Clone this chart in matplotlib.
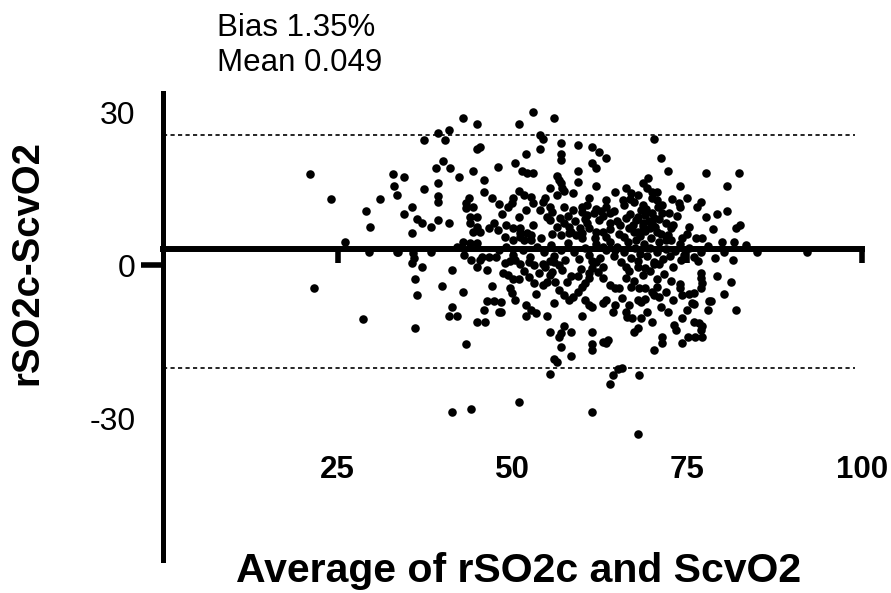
import matplotlib
matplotlib.use("Agg")
import matplotlib.pyplot as plt

plt.rcParams['font.family'] = ['Liberation Sans', 'DejaVu Sans']
plt.rcParams['axes.unicode_minus'] = False

# (average, difference) pairs, grouped by region
left_pts = [
    (21.0, 17.8), (24.0, 13.0), (26.0, 4.5), (21.6, -4.4), (29.0, 10.6), (29.6, 7.5), (31.0, 13.0),
    (29.4, 2.5), (32.9, 17.8), (33.0, 15.5), (33.4, 13.7), (33.4, 2.5), (28.6, -10.6), (34.4, 17.2),
    (35.6, 11.4), (34.4, 10.0), (36.4, 9.0), (37.0, 8.2), (38.4, 7.5), (35.6, 6.3), (33.6, 2.5),
    (35.7, 2.4), (38.4, 2.5), (35.6, 0.4), (35.9, 1.4), (37.0, -0.4), (36.0, -2.7), (36.4, -5.9),
    (36.0, -12.4), (37.4, 14.9), (37.4, 24.5), (39.4, 25.9), (40.4, 24.5), (40.9, 26.5), (42.9, 28.8),
    (44.9, 27.6), (40.0, 20.4), (39.0, 19.0), (41.0, 19.0), (39.4, 16.1), (42.4, 17.3), (39.4, 13.5),
    (39.4, 12.4), (39.4, 8.8), (40.9, 8.2),
]

mid_upper = [
    (45.3, 23.1), (44.9, 22.7), (44.4, 18.4), (47.9, 19.2), (45.9, 16.7), (45.9, 14.3), (47.0, 13.1),
    (43.7, 13.1), (43.4, 12.2), (43.4, 11.2), (44.4, 11.4), (43.9, 9.4), (44.9, 9.4), (43.9, 8.2),
    (44.9, 7.5), (45.3, 6.5), (44.3, 6.5), (46.7, 7.3), (47.4, 8.2), (47.9, 6.9), (42.9, 4.5),
    (43.9, 4.3), (44.9, 4.3), (52.9, 30.0), (50.9, 27.6), (55.9, 28.8), (53.9, 25.5), (54.3, 24.7),
    (53.9, 22.7), (56.9, 23.9), (56.9, 21.8), (56.9, 20.6), (59.4, 23.5), (61.4, 23.1), (62.3, 22.2),
    (63.4, 21.0), (61.4, 20.0), (62.0, 19.0), (51.9, 21.8), (50.4, 20.0), (51.4, 18.4), (52.0, 18.0),
    (52.9, 18.0), (59.4, 18.4), (56.3, 17.5), (56.6, 16.7), (57.0, 16.1), (57.1, 15.1), (59.4, 16.3),
    (55.4, 15.1), (62.0, 15.5), (57.4, 14.5), (58.6, 14.1), (50.9, 14.5), (51.7, 13.7), (52.7, 13.3),
    (52.9, 12.2), (54.6, 13.1), (54.3, 12.4), (56.3, 13.7), (50.0, 13.1), (49.9, 12.2), (49.3, 11.4),
    (60.9, 13.1), (60.6, 11.8), (59.9, 11.4), (60.0, 10.4), (60.7, 9.8), (51.9, 10.8), (53.9, 10.8),
    (55.3, 11.4), (55.7, 10.4), (57.4, 11.4), (58.6, 10.8), (63.4, 12.7), (63.4, 11.4), (63.9, 10.2),
    (50.9, 9.4), (54.9, 9.4), (55.3, 8.8), (49.1, 7.8), (50.0, 7.3), (51.0, 7.3), (51.1, 6.3),
    (52.9, 7.8), (56.4, 7.5), (57.4, 8.2), (58.1, 7.5), (58.4, 6.5), (60.7, 8.2), (61.0, 7.3),
    (62.4, 8.8), (63.9, 8.2), (62.0, 6.5), (62.9, 6.5), (63.4, 5.5), (52.1, 6.3), (52.7, 5.9),
    (60.0, 6.3), (48.9, 5.5), (50.0, 4.9), (51.0, 5.5), (51.7, 4.9), (52.7, 4.9), (54.1, 5.3),
    (55.7, 6.1), (57.0, 5.9), (58.1, 6.3), (59.1, 5.9), (60.0, 5.3), (48.5, 10.0), (48.0, 12.0),
    (56.8, 9.2), (57.9, 9.6), (59.0, 8.6), (59.6, 7.3), (60.3, 9.0), (61.6, 10.2), (62.6, 10.6),
    (61.8, 5.3),
]

right_upper = [
    (70.3, 24.7), (71.3, 21.0), (72.3, 18.4), (77.7, 18.0), (82.4, 18.0), (73.9, 15.5), (74.9, 13.1),
    (80.7, 15.5), (77.0, 12.4), (76.4, 11.4), (77.7, 9.4), (79.3, 10.0), (80.7, 10.6), (75.3, 7.5),
    (78.7, 7.1), (74.3, 5.3), (74.9, 6.1), (76.3, 5.3), (77.1, 5.3), (82.0, 7.3), (82.6, 7.9),
    (79.9, 4.5), (81.7, 4.5), (83.4, 3.9), (66.3, 15.1), (67.0, 14.1), (69.3, 15.1), (70.0, 14.3),
    (70.7, 14.3), (69.9, 13.1), (65.9, 11.8), (67.4, 12.4), (68.6, 11.8), (68.4, 10.8), (68.9, 9.8),
    (70.0, 10.2), (70.3, 9.2), (71.4, 11.8), (71.4, 10.2), (66.3, 9.2), (67.7, 8.8), (68.6, 8.2),
    (65.4, 7.8), (66.6, 7.3), (67.4, 6.5), (68.0, 6.5), (68.6, 7.6), (69.6, 7.3), (70.0, 8.2),
    (70.6, 6.5), (72.6, 7.3), (72.3, 5.9), (71.9, 4.9), (72.7, 4.9), (64.5, 10.6), (65.0, 8.6),
    (65.3, 6.1), (66.0, 5.5), (66.8, 10.0), (67.3, 7.8), (67.6, 4.9), (68.0, 9.4), (68.3, 5.7),
    (68.9, 6.7), (69.1, 11.0), (69.5, 8.6), (69.8, 5.3), (70.4, 7.4), (70.8, 11.4), (71.0, 9.0),
    (71.2, 6.1), (71.9, 8.2), (72.4, 10.2), (73.0, 7.8), (73.5, 9.6), (74.0, 11.4), (63.0, 9.6),
    (62.0, 11.0), (64.0, 7.1), (65.8, 12.7), (66.8, 12.9), (68.0, 13.7), (64.6, 14.3), (72.8, 12.9),
    (73.8, 12.2), (70.6, 12.7), (68.6, 16.1), (69.4, 17.1),
]

bias_band = [
    (45.3, 1.0), (46.7, 1.6), (45.7, 1.6), (47.7, 1.6), (44.9, -0.4), (42.0, 3.5), (43.0, 2.0),
    (44.0, 1.0), (48.0, 2.9), (49.0, 3.5), (50.0, 2.0), (51.5, 2.9), (52.5, 1.6), (53.5, 3.5),
    (54.5, 2.5), (55.5, 3.9), (56.0, 1.8), (57.0, 3.0), (57.5, 1.0), (58.0, 4.3), (58.8, 2.5),
    (59.5, 1.2), (60.3, 3.3), (61.0, 2.0), (62.0, 4.1), (62.5, 1.4), (63.3, 2.9), (64.0, 4.5),
    (64.5, 1.8), (65.0, 3.5), (65.5, 0.6), (66.0, 2.5), (66.5, 4.5), (67.0, 1.4), (67.5, 3.3),
    (68.0, 0.8), (68.3, 2.2), (68.8, 4.1), (69.3, 1.8), (69.7, 3.3), (70.2, 0.6), (70.6, 2.5),
    (71.0, 4.5), (71.5, 1.2), (72.0, 3.1), (72.5, 1.8), (73.3, 2.7), (74.0, 4.1), (74.5, 2.0),
    (75.3, 3.3), (76.0, 1.6), (77.0, 2.5), (78.0, 3.7), (79.0, 1.4), (81.5, 1.0), (80.3, 2.5),
    (85.0, 2.5), (92.1, 2.5), (64.6, 2.9), (63.0, 3.5), (48.9, 0.4), (49.6, 0.8), (50.3, 1.0),
    (51.0, 0.2), (52.3, 0.6), (53.0, 0.0), (55.3, 0.8), (55.9, 0.6), (56.6, 0.0), (54.3, 0.2),
    (54.6, -0.4), (61.4, 0.8), (62.0, 0.6), (66.3, -0.4), (67.9, -0.4), (69.0, -0.6), (70.3, 0.2),
    (70.9, 0.2), (73.0, -0.4), (74.1, 1.0), (76.6, 0.8),
]

mid_lower = [
    (46.4, -1.0), (47.0, -4.1), (46.3, -7.1), (47.4, -7.1), (45.9, -8.8), (44.9, -11.2), (46.0, -11.2),
    (48.1, -9.2), (43.4, -15.5), (41.4, -1.0), (39.9, -4.1), (42.9, -5.3), (41.4, -8.2), (40.9, -10.0),
    (42.0, -10.0), (41.4, -28.8), (44.0, -28.2), (50.9, -26.9), (61.4, -28.8), (55.4, -21.4),
    (63.9, -23.3), (64.3, -21.6), (65.1, -20.4), (55.9, -18.4), (56.3, -19.0), (58.4, -17.8),
    (56.9, -16.1), (61.4, -16.7), (61.4, -15.5), (62.9, -15.1), (63.4, -15.3), (63.7, -14.7),
    (55.4, -13.1), (56.6, -14.1), (57.0, -13.3), (57.4, -12.0), (58.4, -13.1), (61.4, -13.1),
    (54.9, -10.0), (59.9, -10.0), (64.3, -9.2), (51.9, -7.8), (51.9, -10.0), (52.7, -8.8),
    (53.4, -9.4), (55.9, -7.5), (48.4, -7.3), (48.4, -9.2), (50.3, -6.9), (49.9, -5.5), (49.6, -4.5),
    (53.4, -5.7), (56.6, -4.9), (57.4, -5.9), (58.1, -6.9), (58.6, -6.3), (59.3, -5.3), (60.0, -4.3),
    (60.4, -6.9), (61.0, -7.8), (61.4, -8.2), (62.9, -7.5), (63.4, -6.9), (54.3, -3.9), (54.9, -3.3),
    (55.3, -2.0), (55.7, -1.4), (50.0, -2.7), (50.9, -2.7), (58.4, -2.2), (59.3, -2.2), (61.0, -1.6),
    (61.3, -0.6), (60.9, -2.5), (62.9, -2.5), (63.9, -3.9), (64.6, -4.5), (48.6, -1.6), (49.4, -2.0),
    (51.6, -1.2), (52.4, -2.4), (53.0, -3.5), (53.8, -1.6), (57.1, -1.0), (57.8, -3.3), (59.8, -0.8),
    (62.2, -1.4), (63.0, -0.4), (60.3, -3.5), (56.1, -3.3),
]

right_lower = [
    (79.3, -2.2), (81.3, -3.3), (80.3, -5.7), (81.9, -8.8), (78.1, -7.1), (77.9, -8.8), (77.0, -1.6),
    (76.9, -2.5), (77.1, -3.5), (77.0, -4.5), (76.0, -5.5), (75.3, -5.7), (75.7, -7.5), (74.9, -8.8),
    (74.3, -10.4), (73.1, -11.8), (73.4, -12.7), (76.0, -11.2), (76.7, -11.4), (77.1, -12.0),
    (76.9, -12.7), (75.1, -14.1), (76.1, -14.1), (77.1, -14.1), (74.3, -15.3), (71.4, -14.1),
    (71.4, -15.3), (70.3, -16.7), (68.1, -21.6), (67.9, -33.0), (65.6, -20.2), (67.4, -13.1),
    (67.9, -12.4), (69.9, -11.2), (66.3, -9.2), (66.4, -10.2), (67.1, -10.4), (68.4, -10.4),
    (69.3, -9.2), (71.3, -8.2), (72.3, -9.2), (75.9, -7.6), (78.4, -7.1), (68.4, -7.3), (67.9, -6.9),
    (74.3, -5.9), (74.0, -4.5), (73.9, -3.7), (65.3, -4.5), (67.0, -4.3), (68.1, -4.5), (68.9, -4.5),
    (70.0, -5.3), (70.6, -4.3), (70.3, -5.9), (66.7, -1.2), (66.2, -2.5), (67.4, -3.1), (68.6, -2.0),
    (69.6, -1.2), (70.6, -2.7), (71.6, -1.8), (72.6, -3.1), (71.0, -6.3), (72.0, -5.3), (69.0, -6.7),
    (73.0, -6.9), (65.6, -6.5), (64.6, -7.8), (66.6, -7.8),
]

bias = 3.1
loa_upper = 25.5
loa_lower = -20.2
x_ticks = [25, 50, 75, 100]
y_ticks = [30, 0, -30]

all_pts = left_pts + mid_upper + right_upper + bias_band + mid_lower + right_lower
avg_vals = [p[0] for p in all_pts]
diff_vals = [p[1] for p in all_pts]

fig = plt.figure(figsize=(8.91, 5.93), dpi=100)
ax = fig.add_axes([0.183, 0.0556, 0.7845, 0.787])

ax.scatter(avg_vals, diff_vals, s=38, color='black', linewidths=0, zorder=3, clip_on=False)

# limits of agreement
for v in (loa_upper, loa_lower):
    ax.plot([0, 99], [v, v], color='black', lw=1.2, linestyle=(0, (2.5, 2)), zorder=2)

ax.set_xlim(0, 100)
ax.set_ylim(-57.8, 33.7)

for s in ('top', 'right'):
    ax.spines[s].set_visible(False)
ax.spines['bottom'].set_position(('data', bias))
ax.spines['bottom'].set_linewidth(4.3)
ax.spines['left'].set_linewidth(3.6)

ax.set_xticks(x_ticks)
ax.set_xticklabels([str(t) for t in x_ticks], fontweight='bold')
ax.tick_params(axis='x', direction='out', length=10, width=4, pad=138, labelsize=22.5)

ax.set_yticks(y_ticks)
ax.set_yticklabels([str(t) for t in y_ticks])
ax.tick_params(axis='y', direction='out', length=16, width=4, pad=4, labelsize=23)
for t, v in zip(ax.yaxis.get_major_ticks(), y_ticks):
    if v != 0:
        t.tick1line.set_visible(False)

fig.text(0.031, 0.558, 'rSO2c-ScvO2', rotation=90, fontsize=27.5, fontweight='bold',
         ha='center', va='center')
fig.text(0.582, 0.019, 'Average of rSO2c and ScvO2', fontsize=29.5, fontweight='bold',
         ha='center', va='baseline')
fig.text(0.2435, 0.952, 'Bias 1.35%', fontsize=22.5, ha='left', va='center')
fig.text(0.2435, 0.893, 'Mean 0.049', fontsize=22.5, ha='left', va='center')

fig.savefig('out.png', dpi=100)
